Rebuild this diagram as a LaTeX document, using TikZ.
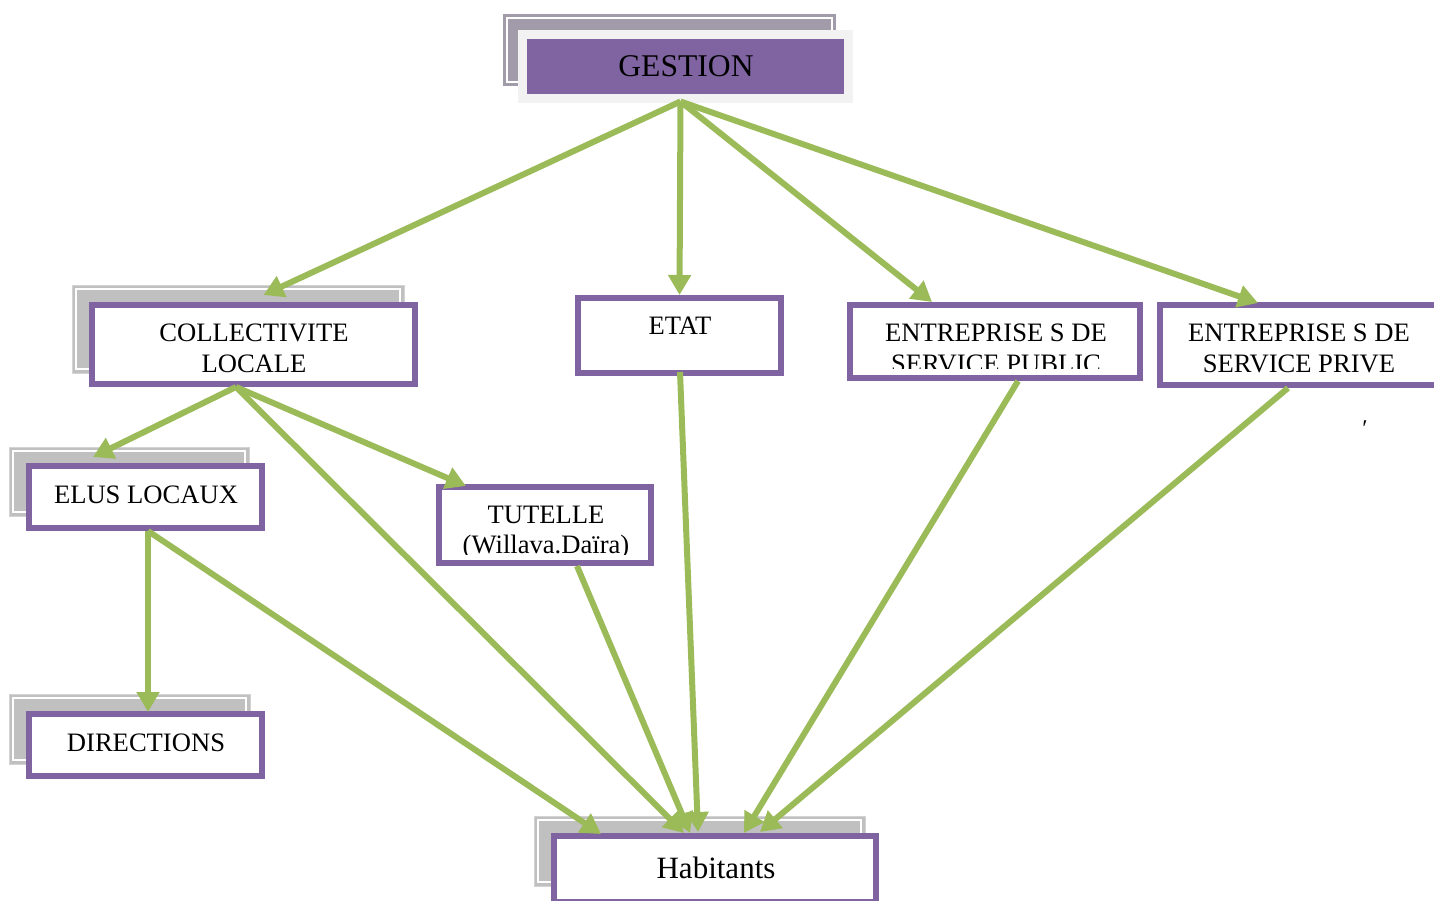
\documentclass[tikz,border=0pt]{standalone}
\usepackage{fontspec}
\setmainfont{Liberation Serif}
\usetikzlibrary{arrows.meta,calc}
\definecolor{purp}{HTML}{8064A2}
\definecolor{grn}{HTML}{9BBB59}
\definecolor{shgray}{HTML}{C0C0C0}
\definecolor{shpurp}{HTML}{A29BAA}
\definecolor{frame}{HTML}{F2F2F2}
\begin{document}
\begin{tikzpicture}[x=0.5pt,y=-0.5pt,
  box/.style={draw=purp,line width=3pt,fill=white,inner sep=0pt},
  lbl/.style={anchor=base,inner sep=0pt,font=\fontsize{13.3}{15.5}\selectfont},
  shadowbox/.style={fill=shgray,draw=shgray!70,line width=0.5pt},
  conn/.style={draw=grn,line width=3pt,-{Triangle[length=10pt,width=11pt]}}
]
\useasboundingbox (0,0) rectangle (1434,900);
% shadows
\fill[shpurp] (503,14) rectangle (836,86);
\draw[white,line width=0.6pt] (507,18) rectangle (832,82);
\draw[shadowbox] (72,285) rectangle (404,373);
\draw[white,line width=0.6pt] (76,289) rectangle (400,369);
\draw[shadowbox] (9,447) rectangle (249,516);
\draw[white,line width=0.6pt] (13,451) rectangle (245,512);
\draw[shadowbox] (9,694) rectangle (250,764);
\draw[white,line width=0.6pt] (13,698) rectangle (246,760);
\draw[shadowbox] (534,816) rectangle (865,886);
\draw[white,line width=0.6pt] (538,820) rectangle (861,882);
% nodes
\node[draw=frame,fill=purp,line width=4.5pt,inner sep=0pt,minimum width=163pt,minimum height=32pt] (ges) at (685.5,66) {};
\node[box,minimum width=161.5pt,minimum height=39.5pt] (coll) at (253.5,344.5) {};
\node[box,minimum width=101.5pt,minimum height=37.5pt] (etat) at (679.5,335.5) {};
\node[box,minimum width=145pt,minimum height=36.5pt] (pub) at (995,341.5) {};
\node[box,minimum width=139pt,minimum height=40pt] (priv) at (1298.5,345) {};
\node[box,minimum width=116.5pt,minimum height=31pt] (elus) at (145.5,497) {};
\node[box,minimum width=106pt,minimum height=38pt] (tut) at (545,525) {};
\node[box,minimum width=116.5pt,minimum height=31pt] (dir) at (145.5,745) {};
\node[box,minimum width=161pt,minimum height=33pt] (hab) at (715,869) {};
% labels
\node[lbl,font=\fontsize{15.8}{18}\selectfont] (gest) at (686,76.5) {GESTION};
\node[lbl] (coll1) at (254,341) {COLLECTIVITE};
\node[lbl] (coll2) at (254,372) {LOCALE};
\node[lbl] (etatt) at (680,334) {ETAT};
\node[lbl] (pub1) at (996,341) {ENTREPRISE S DE};
\begin{scope}
\clip (850,300) rectangle (1140,368);
\node[lbl] (pub2) at (996,372) {SERVICE PUBLIC};
\end{scope}
\node[lbl] (priv1) at (1299,341) {ENTREPRISE S DE};
\node[lbl] (priv2) at (1299,372) {SERVICE PRIVE};
\node[lbl] (elust) at (146,503) {ELUS LOCAUX};
\node[lbl] (tut1) at (546,523) {TUTELLE};
\begin{scope}
\clip (440,480) rectangle (650,554);
\node[lbl] (tut2) at (546,553) {(Willava.Daïra)};
\end{scope}
\node[lbl] (dirt) at (146,751) {DIRECTIONS};
\node[lbl,font=\fontsize{15.5}{18}\selectfont] (habt) at (716,878) {Habitants};
\node[lbl,font=\fontsize{12}{14}\selectfont] (mark) at (1365,436) {′};
% connectors
\coordinate (gs) at ($(ges.south)+(-5,-1)$);
\draw[conn] (gs) -- ($(coll.north)+(10,-7)$);
\draw[conn] (gs) -- (etat.north);
\draw[conn] (gs) -- ($(pub.north)+(-63,0)$);
\draw[conn] (gs) -- ($(priv.north)+(-40.5,1)$);
\coordinate (cs) at ($(coll.south)+(-17.5,0)$);
\draw[conn] (cs) -- ($(elus.north)+(-52.5,-6)$);
\draw[conn] (cs) -- ($(tut.north)+(-79,2)$);
\draw[conn] (cs) -- ($(hab.north)+(-31,0)$);
\coordinate (es) at ($(elus.south)+(2.5,0)$);
\draw[conn] (es) -- ($(dir.north)+(2.5,1)$);
\draw[conn] (es) -- ($(hab.north)+(-114,1)$);
\draw[conn] ($(tut.south)+(32,0)$) -- ($(hab.north)+(-25,0)$);
\draw[conn] ($(etat.south)+(0.5,-4)$) -- ($(hab.north)+(-17,-1)$);
\draw[conn] ($(pub.south)+(23,0)$) -- ($(hab.north)+(29,0)$);
\draw[conn] ($(priv.south)+(-10.5,0)$) -- ($(hab.north)+(45,-1)$);
\end{tikzpicture}
\end{document}
